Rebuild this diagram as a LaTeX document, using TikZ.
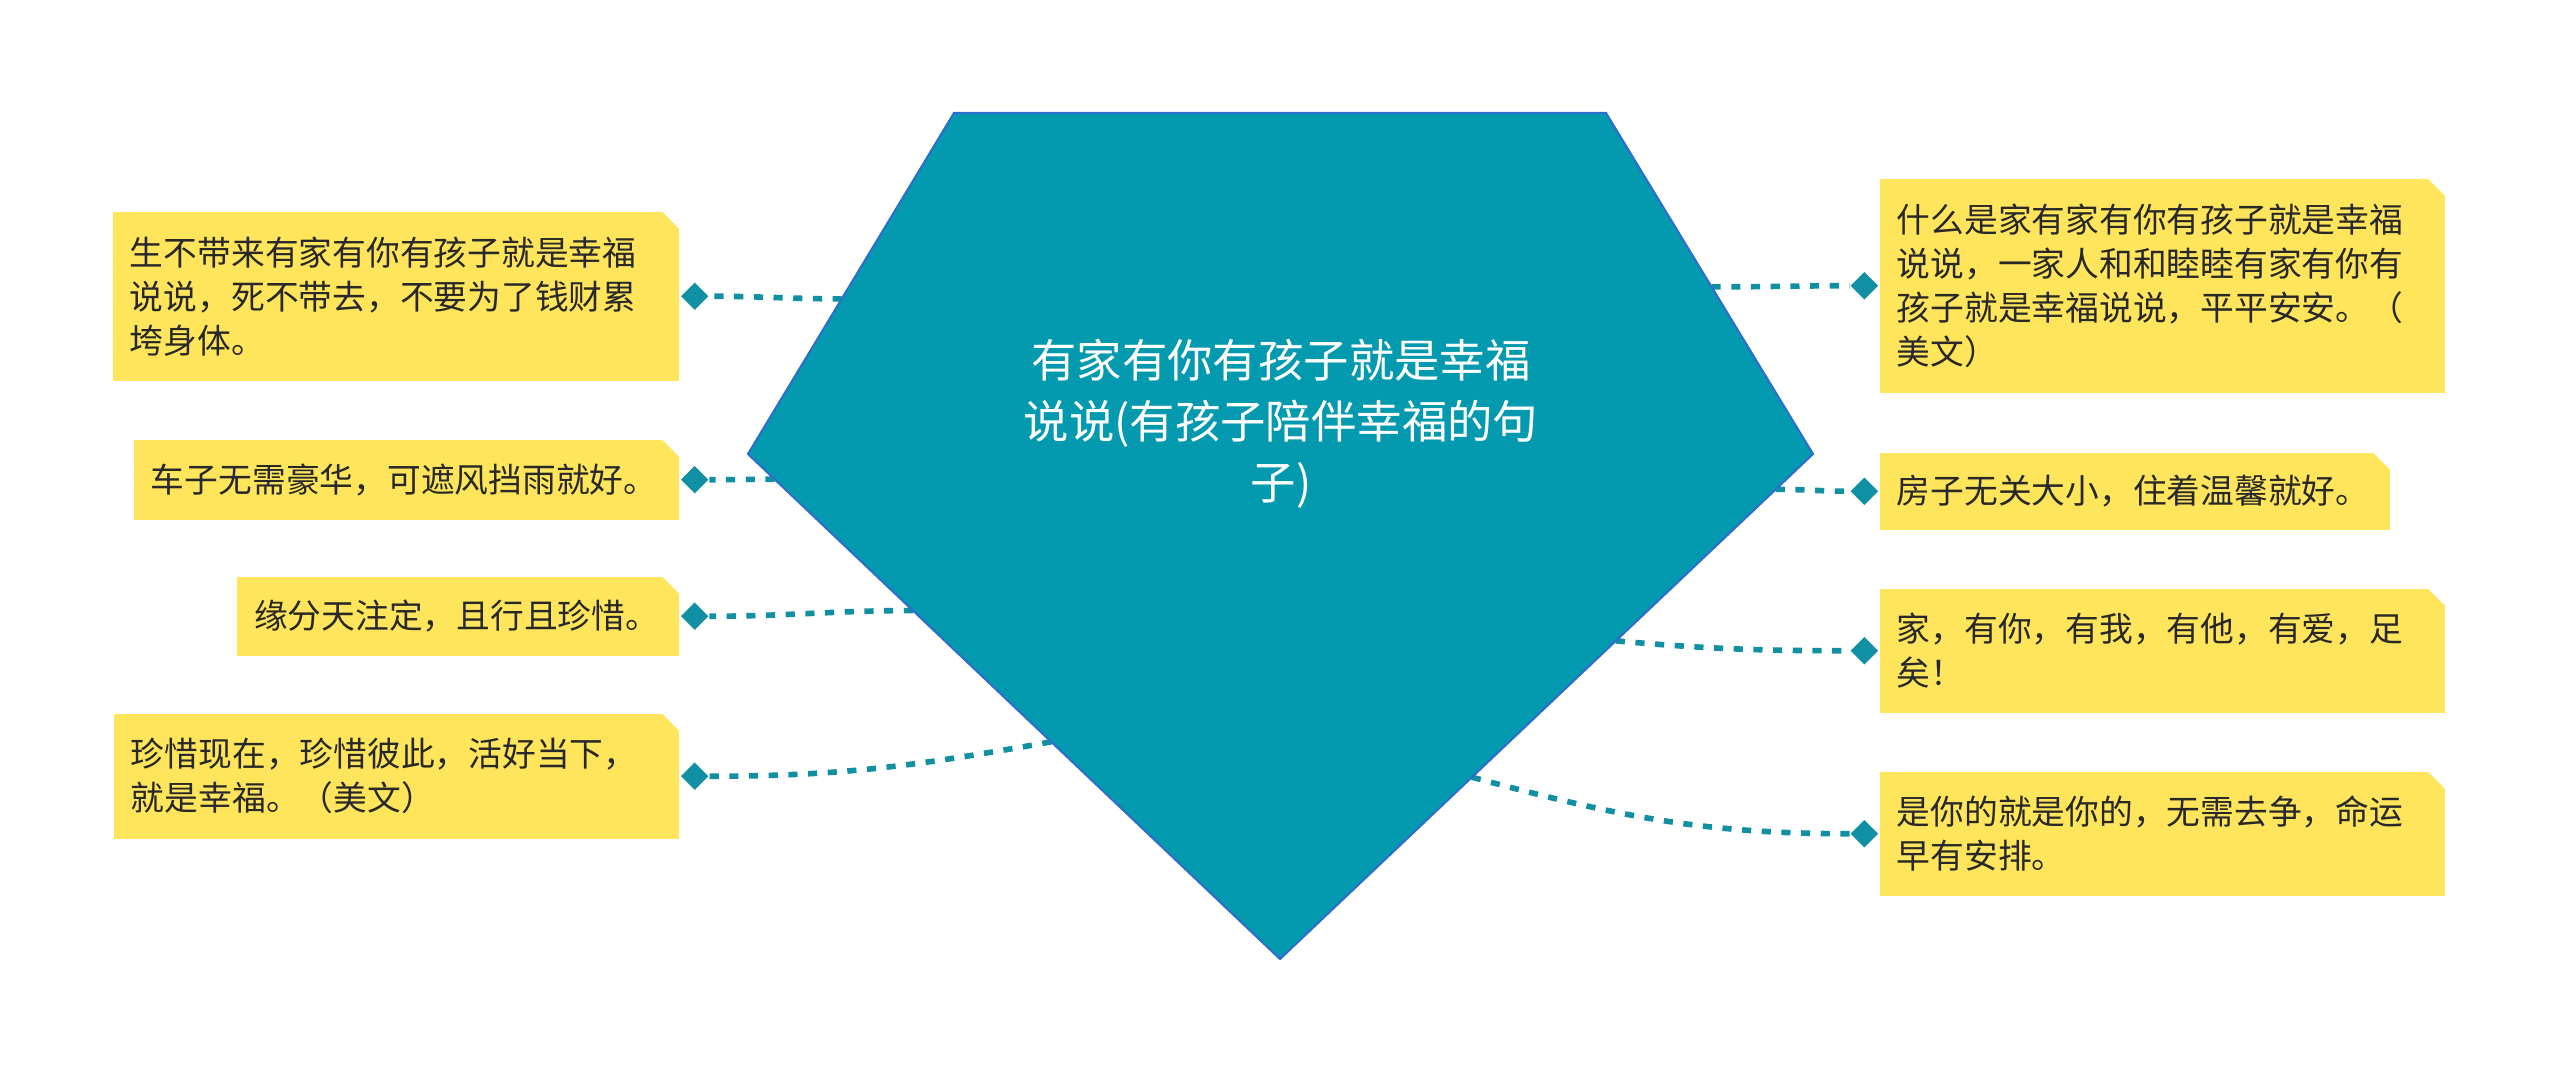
\documentclass[tikz,border=0pt]{standalone}
\usepackage{fontspec}
\newfontfamily\cjk{Noto Sans CJK SC}
\usetikzlibrary{calc, shapes.geometric}
\definecolor{rootfill}{RGB}{3,153,175}
\definecolor{rootline}{RGB}{45,110,205}
\definecolor{linkteal}{RGB}{17,144,163}
\definecolor{notefill}{RGB}{254,229,92}
\definecolor{notetext}{RGB}{40,40,40}

\begin{document}
\begin{tikzpicture}[x=0.01cm, y=0.01cm,
                    root/.style={align=center, text=white, font=\cjk\fontsize{12.9pt}{17.4pt}\selectfont},
                    note/.style={rectangle, fill=notefill, inner xsep=0.17cm, inner ysep=0pt,
                                 align=left, text=notetext, font=\cjk\fontsize{9.6pt}{12.5pt}\selectfont,
                                 path picture={\fill[white] ([xshift=-0.17cm]path picture bounding box.north east) -- (path picture bounding box.north east) -- ([yshift=-0.17cm]path picture bounding box.north east) -- cycle;}},
                    knob/.style={diamond, fill=linkteal, minimum size=0.28cm, inner sep=0pt},
                    link/.style={linkteal, line width=1.6pt, dash pattern=on 2.6pt off 3pt},
                   ]
  \useasboundingbox (0,0) rectangle (2560,-1073);

  \coordinate (p-tl) at (954,-113);
  \coordinate (p-tr) at (1606,-113);
  \coordinate (p-r) at (1813,-454);
  \coordinate (p-b) at (1280,-959);
  \coordinate (p-l) at (748,-454);

  \node[note, text width=5.32cm, minimum height=1.69cm, anchor=north east] (left-1) at (680,-211) {生不带来有家有你有孩子就是幸福\\说说，死不带去，不要为了钱财累\\垮身体。};
  \node[note, text width=5.11cm, minimum height=0.80cm, anchor=north east] (left-2) at (680,-439) {车子无需豪华，可遮风挡雨就好。};
  \node[note, text width=4.08cm, minimum height=0.79cm, anchor=north east] (left-3) at (680,-576) {缘分天注定，且行且珍惜。};
  \node[note, text width=5.31cm, minimum height=1.25cm, anchor=north east] (left-4) at (680,-713) {珍惜现在，珍惜彼此，活好当下，\\就是幸福。（美文）};

  \node[note, text width=5.31cm, minimum height=2.14cm, anchor=north west] (right-1) at (1879,-178) {什么是家有家有你有孩子就是幸福\\说说，一家人和和睦睦有家有你有\\孩子就是幸福说说，平平安安。（\\美文）};
  \node[note, text width=4.76cm, minimum height=0.77cm, anchor=north west] (right-2) at (1879,-452) {房子无关大小，住着温馨就好。};
  \node[note, text width=5.31cm, minimum height=1.24cm, anchor=north west] (right-3) at (1879,-588) {家，有你，有我，有他，有爱，足\\矣！};
  \node[note, text width=5.31cm, minimum height=1.24cm, anchor=north west] (right-4) at (1879,-771) {是你的就是你的，无需去争，命运\\早有安排。};

  \node[knob, anchor=west] (knob-l1) at (left-1.east) {};
  \node[knob, anchor=west] (knob-l2) at (left-2.east) {};
  \node[knob, anchor=west] (knob-l3) at (left-3.east) {};
  \node[knob, anchor=west] (knob-l4) at (left-4.east) {};
  \node[knob, anchor=east] (knob-r1) at (right-1.west) {};
  \node[knob, anchor=east] (knob-r2) at (right-2.west) {};
  \node[knob, anchor=east] (knob-r3) at (right-3.west) {};
  \node[knob, anchor=east] (knob-r4) at (right-4.west) {};

  \coordinate (from-l1) at ($(p-tl)!0.545!(p-l)$);
  \coordinate (from-l2) at ($(p-l)!0.05!(p-b)$);
  \coordinate (from-l3) at ($(p-l)!0.31!(p-b)$);
  \coordinate (from-l4) at ($(p-l)!0.57!(p-b)$);
  \coordinate (from-r1) at ($(p-tr)!0.51!(p-r)$);
  \coordinate (from-r2) at ($(p-r)!0.07!(p-b)$);
  \coordinate (from-r3) at ($(p-r)!0.37!(p-b)$);
  \coordinate (from-r4) at ($(p-r)!0.64!(p-b)$);

  \path[link] (from-l1) edge[out=180, in=0] (knob-l1.east);
  \path[link] (from-l2) edge[out=180, in=0] (knob-l2.east);
  \path[link] (from-l3) edge[out=180, in=0] (knob-l3.east);
  \path[link] (from-l4) edge[out=190, in=0] (knob-l4.east);
  \path[link] (from-r1) edge[out=0, in=180] (knob-r1.west);
  \path[link] (from-r2) edge[out=0, in=180] (knob-r2.west);
  \path[link] (from-r3) edge[out=-5, in=180] (knob-r3.west);
  \path[link] (from-r4) edge[out=-15, in=180] (knob-r4.west);

  \filldraw[fill=rootfill, draw=rootline, line width=0.6pt] (p-tl) -- (p-tr) -- (p-r) -- (p-b) -- (p-l) -- cycle;
  \node[root] (root) at (1281,-424) {有家有你有孩子就是幸福\\说说(有孩子陪伴幸福的句\\子)};
\end{tikzpicture}
\end{document}
